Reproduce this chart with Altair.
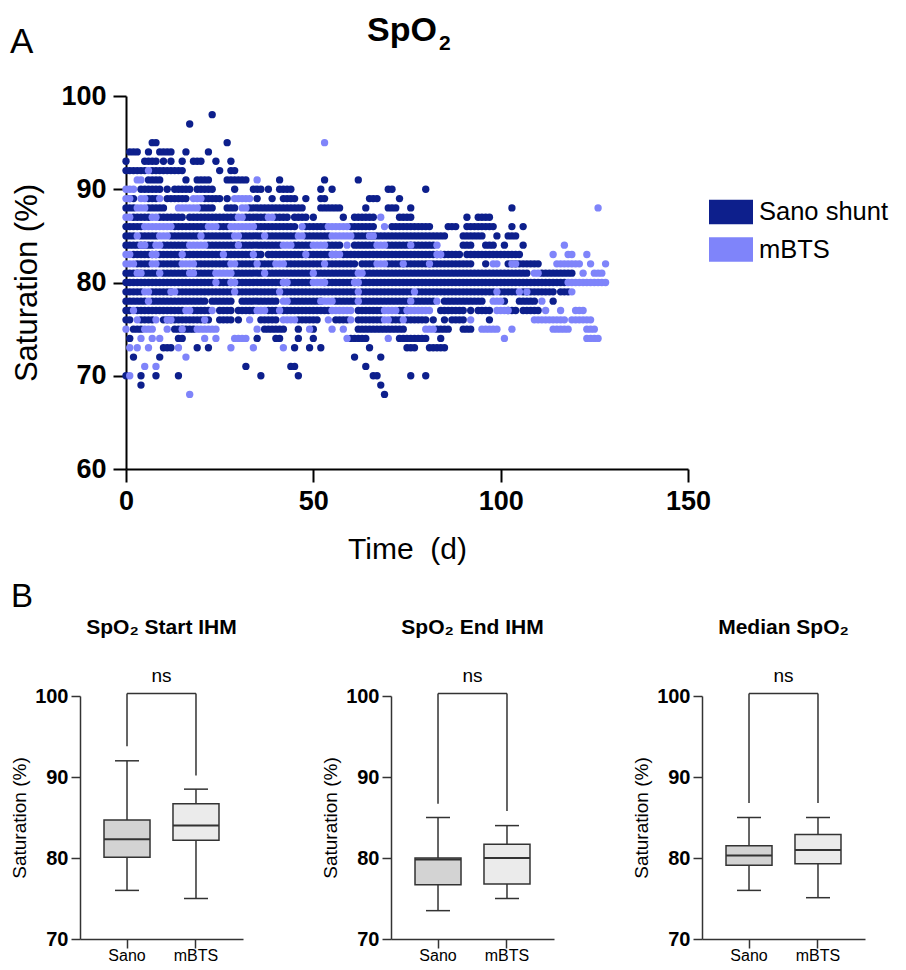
import altair as alt
import pandas as pd

FONT = "Liberation Sans"
DARK = "#0d1f8c"
LIGHT = "#7f84fa"
STROKE = "#333333"

# ---- Panel A: saturation readings per day, given as runs of consecutive days [first, last] per saturation level ----
SANO_RUNS = {
    98: [23], 97: [17],
    95: [[7, 8], 27],
    94: [[1, 3], 6, [9, 12], 16, 22],
    93: [0, [5, 8], 10, 12, 15, [18, 20], 24, 28],
    92: [[0, 5], [7, 15], 25, [28, 29]],
    91: [[6, 9], 16, [19, 22], [27, 32], 41, 53, 62],
    90: [[4, 9], 11, [13, 17], [19, 23], 29, [34, 36], 38, [41, 44], 52, 55, [70, 71], 80],
    89: [[1, 2], [6, 8], [11, 16], [21, 25], 27, 35, 39, [42, 45], 48, [52, 53], [65, 67], 73],
    88: [[0, 2], [6, 10], [20, 23], [27, 29], [33, 47], [52, 57], 64, [70, 72], 76, 103],
    87: [[2, 6], [9, 15], [17, 29], [32, 37], [40, 43], [45, 48], 50, 58, [61, 66], [73, 76], 91, [94, 97]],
    86: [[0, 4], [13, 21], [25, 27], [35, 45], [48, 53], [60, 66], [71, 81], [86, 88], [91, 94], [95, 98], 103, 106],
    85: [[0, 2], [4, 8], [12, 19], [21, 28], [31, 36], [38, 45], [48, 54], [61, 85], [90, 95], 99, [102, 104]],
    84: [[0, 4], [5, 7], [10, 16], [22, 41], [45, 49], [54, 57], [61, 66], [70, 82], [90, 92], [96, 98], 101, 106],
    83: [[2, 16], [17, 25], [27, 36], [38, 48], [49, 56], [58, 89], [91, 105]],
    82: [[3, 6], [9, 14], [19, 27], [30, 34], [36, 39], [43, 52], [54, 61], [63, 66], [70, 92], 96, [102, 110]],
    81: [[0, 3], [4, 8], [10, 17], [18, 23], [29, 36], [38, 49], [51, 61], [64, 107], [111, 119]],
    80: [[0, 23], [25, 28], [29, 42], [43, 49], [53, 61], [62, 117]],
    79: [[0, 4], [7, 12], [14, 23], [24, 28], [30, 40], [42, 61], [63, 76], [78, 98], [100, 104], [106, 114], [116, 118]],
    78: [[0, 2], [3, 5], [7, 13], [14, 21], [23, 28], [31, 40], [44, 52], [56, 61], [63, 76], [77, 82], [85, 95], 101, [105, 109], 114],
    77: [[0, 1], [3, 7], [8, 15], [18, 22], [25, 28], [30, 34], [38, 40], [42, 54], [62, 68], [73, 75], [84, 90], 92, [94, 97], [102, 104], [106, 110]],
    76: [[0, 1], [4, 7], [10, 22], [25, 28], 30, [36, 40], [46, 51], [56, 59], [62, 68], [71, 73], [75, 80], 82, 85, [87, 90], 97],
    75: [[2, 4], [13, 18], [37, 42], 46, 50, [62, 74], [83, 86], [90, 92]],
    74: [1, [14, 15], 35, [40, 41], 46, 50, [60, 64], [73, 80], 84],
    73: [[10, 12], 19, 22, 45, 49, 52, 65, [75, 77], [81, 85]],
    72: [2, 9, 61, 68],
    71: [32, [44, 45], 64],
    70: [0, 4, 8, 14, 36, 46, [66, 67], 76, 80],
    69: [4, 68],
    68: [69],
}
MBTS_RUNS = {
    95: [53],
    92: [6],
    91: [[3, 4], 35],
    90: [[0, 2]],
    89: [[0, 1], [4, 5], 9, [18, 20], [29, 33]],
    88: [[3, 5], [14, 19], [31, 32], 126],
    87: [[0, 1], [7, 8], [30, 31], [38, 39], 68],
    86: [[5, 12], [22, 24], [28, 34], 47, [54, 59], 69],
    85: [3, [9, 11], 20, [29, 30], 37, [46, 47], [55, 60], [65, 66]],
    84: [[4, 5], [8, 9], [17, 21], 30, [42, 44], [50, 53], 59, [67, 69], 76, 83, 117],
    83: [[0, 1], [7, 8], 15, 26, 34, 48, [55, 57], [83, 84], 114, [118, 119], 123],
    82: [[0, 2], [7, 8], [15, 18], [28, 29], 35, [40, 42], 53, [67, 69], 74, 81, [98, 99], [103, 104], [115, 121], 124, 128],
    81: [[3, 4], 9, [17, 18], [24, 28], 37, 50, [62, 63], [109, 110], 122, [125, 127]],
    80: [24, [28, 29], [42, 43], [50, 53], [61, 62], [118, 128]],
    79: [[5, 6], [12, 13], 29, 41, 62, 77, 99, 105, 107, 119],
    78: [6, [42, 43], [52, 55], 62, 76, 83, [98, 100], 111],
    77: [2, [16, 17], 23, [35, 37], 41, [55, 60], [69, 72], [75, 81], [99, 102], 112, 116, [120, 122]],
    76: [3, 8, [11, 12], 21, 33, [42, 45], 54, 60, [69, 70], 74, 92, [109, 117], [119, 124]],
    75: [0, [5, 7], 11, 15, [19, 24], 35, 49, 55, 58, [80, 82], [95, 99], 103, [114, 118], [123, 125]],
    74: [4, 7, 9, 21, 24, [29, 32], 59, 70, 101, [123, 126]],
    73: [1, 3, 6, 14, 28, 34, 42],
    72: [16],
    71: [5, 8],
    70: [1],
    68: [17],
}
GROUP_NAMES = ["Sano shunt", "mBTS"]

# ---- Panel B: box plot summaries (Sano, mBTS) ----
BOX_GROUPS = ["Sano", "mBTS"]
BOX_FILLS = ["#d3d3d3", "#ebebeb"]
BRACKET_TOP = 100.3

START_LO = [76.0, 75.0]
START_Q1 = [80.1, 82.2]
START_MED = [82.3, 84.0]
START_Q3 = [84.7, 86.7]
START_HI = [92.0, 88.5]
START_LEGS = [93.8, 90.2]

END_LO = [73.5, 75.0]
END_Q1 = [76.7, 76.8]
END_MED = [79.8, 80.0]
END_Q3 = [80.0, 81.7]
END_HI = [85.0, 84.0]
END_LEGS = [86.7, 85.8]

MEDIAN_LO = [76.0, 75.1]
MEDIAN_Q1 = [79.1, 79.3]
MEDIAN_MED = [80.3, 81.0]
MEDIAN_Q3 = [81.5, 82.9]
MEDIAN_HI = [85.0, 85.0]
MEDIAN_LEGS = [86.8, 86.8]


def expand(runs, group, z):
    out = []
    for sat, segs in runs.items():
        for seg in segs:
            if isinstance(seg, list):
                a, b = seg
            else:
                a = b = seg
            for d in range(a, b + 1):
                out.append({"day": d, "sat": sat, "group": group, "z": z})
    return out


scatter_df = pd.DataFrame(expand(SANO_RUNS, GROUP_NAMES[0], 0) + expand(MBTS_RUNS, GROUP_NAMES[1], 1))

RECT_PATH = "M-1,-0.56H1V0.56H-1Z"
SHIFT = 46            # top plot starts this far right of the bottom panels' left edge
TOP_W, TOP_H = SHIFT + 562, 373

points = alt.Chart(scatter_df).mark_circle(size=54, opacity=1).encode(
    x=alt.X("day:Q", scale=alt.Scale(domain=[0, 150], range=[SHIFT, TOP_W], nice=False, zero=False),
            axis=alt.Axis(values=[0, 50, 100, 150], title="Time\u00a0\u00a0(d)", labelFontSize=27,
                          labelFontWeight="bold", titleFontSize=30, titleFontWeight="normal",
                          tickSize=13, tickWidth=2, domainWidth=2, labelPadding=6, titlePadding=20,
                          labelFlush=False, grid=False, domainColor="black", tickColor="black",
                          labelColor="black", titleColor="black")),
    y=alt.Y("sat:Q", scale=alt.Scale(domain=[60, 100], nice=False, zero=False),
            axis=alt.Axis(values=[60, 70, 80, 90, 100], title="Saturation (%)", labelFontSize=27,
                          labelFontWeight="bold", titleFontSize=31, titleFontWeight="normal",
                          tickSize=13, tickWidth=2, domainWidth=2, labelPadding=7, titlePadding=17,
                          offset=-SHIFT, grid=False, domainColor="black", tickColor="black",
                          labelColor="black", titleColor="black")),
    color=alt.Color("group:N", scale=alt.Scale(domain=GROUP_NAMES, range=[DARK, LIGHT]),
                    legend=alt.Legend(title=None, orient="none", legendX=SHIFT + 583, legendY=94,
                                      symbolType=RECT_PATH, symbolSize=1936, symbolStrokeWidth=0,
                                      symbolOpacity=1, labelFontSize=25.5, labelOffset=6,
                                      rowPadding=1.5, padding=0, labelColor="black")),
    order=alt.Order("z:Q"),
)


def label(text, size, x, y, weight="normal", align="left"):
    return alt.Chart(pd.DataFrame({"t": [text]})).mark_text(
        fontSize=size, fontWeight=weight, align=align, baseline="alphabetic", color="black"
    ).encode(text="t:N", x=alt.value(x), y=alt.value(y))


top = alt.layer(
    points,
    label("A", 35, SHIFT - 116, -43),
    label("B", 33, SHIFT - 115, 511),
    label("SpO", 34, SHIFT + 311, -55, weight="bold", align="right"),
    label("2", 21, SHIFT + 313, -46, weight="bold", align="left"),
).properties(width=TOP_W, height=TOP_H)

PW, PH = 163, 243


def panel(title, lo, q1, med, q3, hi, legs):
    df = pd.DataFrame({"g": BOX_GROUPS, "lo": lo, "q1": q1, "med": med, "q3": q3,
                       "hi": hi, "leg": legs, "fill": BOX_FILLS, "top": [BRACKET_TOP] * 2})
    xs = alt.Scale(type="band", domain=BOX_GROUPS, paddingInner=0.333, paddingOuter=0.348)
    xaxis = alt.Axis(title=None, labelAngle=0, labelFontSize=16, tickSize=9, labelPadding=-1,
                     domainColor=STROKE, tickColor=STROKE, domainWidth=1.5, tickWidth=1.5,
                     labelColor="black")
    ys = alt.Scale(domain=[70, 100], nice=False, zero=False)
    yaxis = alt.Axis(values=[70, 80, 90, 100], labelFontSize=20, labelFontWeight="bold",
                     titleFontSize=19, titleFontWeight="normal", tickSize=9, labelPadding=3,
                     titlePadding=5, grid=False, domainColor=STROKE, tickColor=STROKE,
                     domainWidth=1.5, tickWidth=1.5, labelColor="black", titleColor="black")

    def X():
        return alt.X("g:N", scale=xs, axis=xaxis, sort=BOX_GROUPS)

    def Y(f):
        return alt.Y(f, scale=ys, axis=yaxis, title="Saturation (%)")

    base = alt.Chart(df)
    whisk = base.mark_rule(color=STROKE, strokeWidth=1.5).encode(x=X(), y=Y("lo:Q"), y2="hi:Q")
    box = base.mark_bar(stroke=STROKE, strokeWidth=1.5).encode(
        x=X(), y=Y("q1:Q"), y2="q3:Q", fill=alt.Fill("fill:N", scale=None))
    medl = base.mark_tick(size=46, thickness=2, color=STROKE, opacity=1).encode(x=X(), y=Y("med:Q"))
    cap_lo = base.mark_tick(size=24, thickness=1.5, color=STROKE, opacity=1).encode(x=X(), y=Y("lo:Q"))
    cap_hi = base.mark_tick(size=24, thickness=1.5, color=STROKE, opacity=1).encode(x=X(), y=Y("hi:Q"))
    legl = base.mark_rule(color=STROKE, strokeWidth=1.5).encode(x=X(), y=Y("leg:Q"), y2="top:Q")
    bar_top = base.mark_line(color=STROKE, strokeWidth=1.5).encode(x=X(), y=Y("top:Q"))
    ns = alt.Chart(pd.DataFrame({"g": ["Sano"], "y": [BRACKET_TOP], "t": ["ns"]})).mark_text(
        fontSize=19, dx=34.5, dy=-8, baseline="bottom", color="black"
    ).encode(x=X(), y=Y("y:Q"), text="t:N")
    ttl = label(title, 21, PW / 2, -62, weight="bold", align="center")
    return alt.layer(whisk, box, medl, cap_lo, cap_hi, legl, bar_top, ns, ttl).properties(
        width=PW, height=PH)


p1 = panel("SpO\u2082 Start IHM", START_LO, START_Q1, START_MED, START_Q3, START_HI, START_LEGS)
p2 = panel("SpO\u2082 End IHM", END_LO, END_Q1, END_MED, END_Q3, END_HI, END_LEGS)
p3 = panel("Median SpO\u2082", MEDIAN_LO, MEDIAN_Q1, MEDIAN_MED, MEDIAN_Q3, MEDIAN_HI, MEDIAN_LEGS)

bottom = alt.hconcat(p1, p2, p3, spacing=78)

chart = alt.vconcat(top, bottom, spacing=3).properties(
    padding={"left": 2, "top": 6, "right": 0, "bottom": 0}
).configure(font=FONT).configure_view(stroke=None)

chart.save("out.html", embed_options={"renderer": "svg", "actions": False})
